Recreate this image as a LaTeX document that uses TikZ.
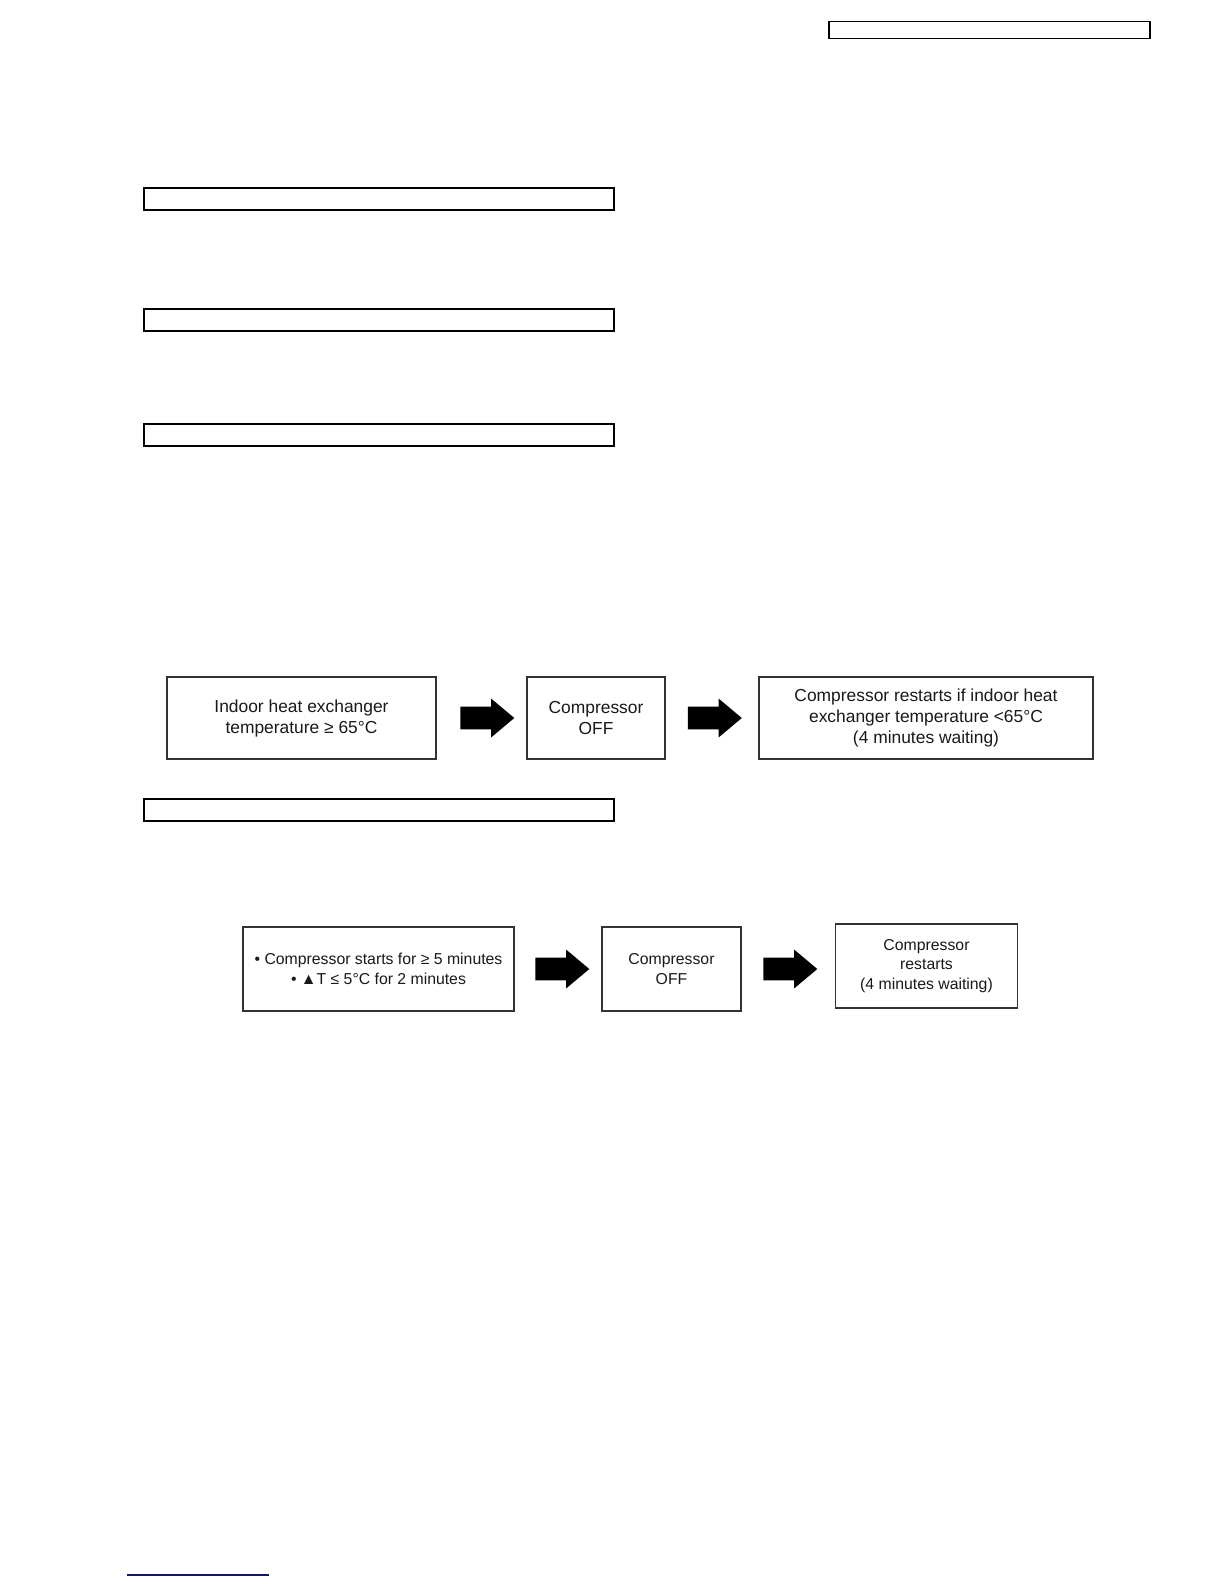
\documentclass[tikz,border=0pt]{standalone}
\usepackage{fontspec}
\setmainfont{Liberation Sans}
\usetikzlibrary{shapes.arrows}
\definecolor{navy}{RGB}{20,20,120}
\begin{document}
\begin{tikzpicture}[x=0.5pt,y=-0.5pt,
  hdr/.style={draw=black,line width=0.85pt,minimum width=235pt,minimum height=11pt,inner sep=0pt},
  flowbox/.style={draw=black!80,line width=0.65pt,inner sep=0pt,align=center,
    font=\fontsize{8.7pt}{10.5pt}\selectfont,text=black!90,minimum height=41pt},
  flowboxb/.style={flowbox,font=\fontsize{7.9pt}{9.7pt}\selectfont,minimum height=42pt},
  blockarrow/.style={single arrow,fill=black,draw=none,minimum width=19pt,
    single arrow head extend=4pt,minimum height=27pt,inner sep=0pt,single arrow tip angle=80}]
\fill[white] (0,0) rectangle (1224,1584);
\useasboundingbox (0,0) rectangle (1224,1584);

% header boxes
\node[hdr,line width=0.65pt,minimum width=160.5pt,minimum height=8.5pt] (h0) at (989.5,30) {};
\node[hdr] (h1) at (379,199) {};
\node[hdr] (h2) at (379,320) {};
\node[hdr] (h3) at (379,435) {};
\node[hdr] (h4) at (379,810) {};

% flow 1
\node[flowbox,minimum width=134.5pt] (a1) at (301.5,718) {Indoor heat exchanger\\temperature ≥ 65°C};
\node[flowbox,minimum width=69pt] (c1) at (596,718) {Compressor\\OFF};
\node[flowbox,minimum width=167pt] (r1) at (926,718) {Compressor restarts if indoor heat\\exchanger temperature <65°C\\(4 minutes waiting)};
\node[blockarrow] (ar1) at (480.5,718) {\rule{0pt}{11pt}};
\node[blockarrow] (ar2) at (708,718) {\rule{0pt}{11pt}};

% flow 2
\node[flowboxb,minimum width=135.5pt] (b2) at (378.5,969) {• Compressor starts for ≥ 5 minutes\\• ▲T ≤ 5°C for 2 minutes};
\node[flowboxb,minimum width=69.5pt] (c2) at (671.5,969) {Compressor\\OFF};
\node[flowboxb,minimum width=91pt] (r2) at (926.5,966) {Compressor\\restarts\\(4 minutes waiting)};
\node[blockarrow] (ar3) at (555.5,969) {\rule{0pt}{11pt}};
\node[blockarrow] (ar4) at (783.5,969) {\rule{0pt}{11pt}};

% footer line
\coordinate (f1) at (127,1575);
\coordinate (f2) at (269,1575);
\draw[navy,line width=0.6pt] (f1) -- (f2);
\end{tikzpicture}
\end{document}
